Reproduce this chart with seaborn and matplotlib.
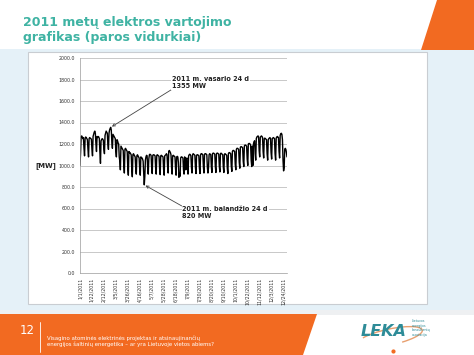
import numpy as np
import pandas as pd
import matplotlib
matplotlib.use("Agg")
import matplotlib.pyplot as plt
from matplotlib.patches import Rectangle, Polygon, Arc
import seaborn as sns

# === DATA (daily averages, MW, 2011) ===
jan = [1000, 1120, 1270, 1275, 1265, 1250, 1260, 1160, 1090, 1255, 1265, 1260, 1250, 1240, 1150, 1080,
       1250, 1260, 1255, 1250, 1245, 1150, 1090, 1270, 1290, 1310, 1320, 1300, 1200, 1130, 1270]
feb = [1260, 1270, 1265, 1250, 1120, 1020, 1230, 1240, 1250, 1245, 1235, 1150, 1110, 1280, 1300, 1320,
       1310, 1300, 1200, 1150, 1300, 1330, 1345, 1355, 1330, 1220, 1160, 1290]
mar = [1280, 1270, 1260, 1250, 1130, 1080, 1240, 1230, 1210, 1200, 1080, 1040, 960, 1180, 1170, 1160,
       1150, 1140, 1000, 930, 1150, 1160, 1150, 1140, 1130, 980, 910, 1130, 1120, 1120, 1110]
apr = [1100, 970, 895, 1100, 1110, 1100, 1090, 1080, 970, 920, 1090, 1100, 1090, 1080, 1070, 960,
       910, 1080, 1075, 1070, 1060, 1040, 930, 820, 900, 1050, 1080, 1095, 1090, 975]
may = [920, 1060, 1100, 1105, 1100, 1095, 980, 925, 1095, 1100, 1100, 1095, 1090, 975, 920, 1095,
       1100, 1095, 1090, 1085, 970, 915, 1090, 1095, 1090, 1085, 1080, 965, 910, 1090, 1095]
jun = [1100, 1110, 1100, 990, 930, 1130, 1140, 1130, 1120, 1100, 980, 920, 1090, 1095, 1090, 1085,
       1080, 970, 910, 1080, 1085, 1080, 1030, 890, 930, 900, 1070, 1080, 1080, 1075]
jul = [1070, 960, 920, 1080, 1070, 960, 1060, 1070, 970, 920, 1090, 1100, 1105, 1100, 1090, 980,
       930, 1100, 1110, 1105, 1100, 1095, 980, 925, 1095, 1100, 1100, 1095, 1090, 975, 925]
aug = [1100, 1110, 1110, 1105, 1100, 985, 930, 1105, 1110, 1110, 1105, 1100, 980, 930, 980, 1100,
       1110, 1105, 1100, 985, 935, 1110, 1115, 1115, 1110, 1105, 990, 935, 1110, 1115, 1115]
sep = [1110, 1105, 990, 940, 1110, 1115, 1110, 1105, 1100, 985, 935, 1105, 1110, 1105, 1100, 1095,
       975, 925, 1110, 1120, 1120, 1115, 1110, 995, 945, 1130, 1140, 1140, 1135, 1130]
oct_ = [1010, 960, 1150, 1160, 1160, 1155, 1150, 1030, 975, 1170, 1175, 1175, 1170, 1165, 1040, 990,
        1180, 1190, 1190, 1185, 1180, 1060, 1000, 1200, 1205, 1205, 1200, 1190, 1050, 990, 1180]
nov = [1000, 1200, 1220, 1230, 1110, 1050, 1250, 1265, 1270, 1275, 1270, 1140, 1080, 1260, 1270, 1275,
       1270, 1260, 1130, 1070, 1250, 1255, 1250, 1245, 1240, 1110, 1050, 1240, 1250, 1255]
dec = [1260, 1250, 1120, 1060, 1250, 1255, 1260, 1255, 1250, 1110, 1050, 1255, 1265, 1270, 1265, 1260,
       1130, 1070, 1280, 1295, 1300, 1290, 1240, 1050, 950, 980, 1150, 1160, 1150, 1120, 1080]

mw = jan + feb + mar + apr + may + jun + jul + aug + sep + oct_ + nov + dec
dates = pd.date_range("2011-01-01", "2011-12-31", freq="D")
df = pd.DataFrame({"date": dates, "mw": mw})

y_ticks = [0, 200, 400, 600, 800, 1000, 1200, 1400, 1600, 1800, 2000]
x_ticks = pd.date_range("2011-01-01", "2011-12-31", freq="21D")

title = "2011 metų elektros vartojimo\ngrafikas (paros vidurkiai)"
note_peak = "2011 m. vasario 24 d\n1355 MW"
note_low = "2011 m. balandžio 24 d\n820 MW"
footer = "Visagino atominės elektrinės projektas ir atsinaujinančių\nenergijos šaltinių energetika – ar yra Lietuvoje vietos abiems?"

# === FIGURE ===
sns.set_style("white")
plt.rcParams['font.family'] = ['DejaVu Sans']

W, H = 474, 355
fig = plt.figure(figsize=(W / 100, H / 100), dpi=100)
fig.patch.set_facecolor("white")

# slide background drawn in pixel coordinates
bg = fig.add_axes([0, 0, 1, 1])
bg.set_xlim(0, W)
bg.set_ylim(H, 0)
bg.axis("off")

teal = "#3fb3a3"
orange = "#f26a21"

bg.add_patch(Rectangle((0, 49), W, 265, color="#e5f1f8", lw=0))
bg.add_patch(Polygon([(437, 0), (W, 0), (W, 50), (421, 50)], color=orange, lw=0))
bg.add_patch(Rectangle((0, 310), W, 5, color="#eef0f2", lw=0))
bg.add_patch(Polygon([(0, 314), (317, 314), (303, H), (0, H)], color=orange, lw=0))
bg.add_patch(Rectangle((28, 52), 399, 252, facecolor="white", edgecolor="#c9cdd2", lw=0.8))

bg.text(23, 16, title, color=teal, fontsize=9.0, fontweight="bold", va="top", linespacing=1.25)
bg.text(20, 331, "12", color="white", fontsize=8.5, va="center")
bg.plot([40, 40], [322, 352], color="white", lw=0.6)
bg.text(47, 347, footer, color="white", fontsize=3.9, va="bottom", linespacing=1.2)

# LEKA logo
bg.text(384, 331, "LEKA", color="#2e8c98", fontsize=11.5, fontweight="bold", fontstyle="italic",
        ha="center", va="center")
bg.add_patch(Arc((390, 337), 66, 16, angle=-12, theta1=190, theta2=35, color="#e8a070", lw=1.0))
bg.plot([393], [351], marker="o", ms=2, color=orange)
bg.text(412, 319, "Lietuvos\nenergijos\nkonsultantų\nasociacija", color="#2e8c98", fontsize=2.3,
        va="top", linespacing=1.2)

# chart axes
ax = fig.add_axes([80 / W, 1 - 273 / H, 207 / W, 215 / H])
ax.set_facecolor("white")
sns.lineplot(data=df, x="date", y="mw", color="black", lw=1.0, ax=ax)

ax.set_ylim(0, 2000)
ax.set_xlim(dates[0], dates[-1])
ax.set_yticks(y_ticks)
ax.set_yticklabels([f"{v:.1f}" for v in y_ticks])
ax.set_xticks(x_ticks)
ax.set_xticklabels([f"{d.month}/{d.day}/{d.year}" for d in x_ticks], rotation=90)
ax.tick_params(axis="both", labelsize=3.4, colors="#333333", length=2, width=0.5, pad=1.5)
ax.yaxis.grid(True, color="#bfbfbf", lw=0.6)
ax.set_axisbelow(True)
for s in ["top", "right"]:
    ax.spines[s].set_visible(False)
for s in ["left", "bottom"]:
    ax.spines[s].set_color("#9a9a9a")
    ax.spines[s].set_linewidth(0.5)
ax.set_xlabel("")
ax.set_ylabel("")

fig.text(35 / W, 1 - 166 / H, "[MW]", fontsize=5.0, fontweight="bold", color="#222222", va="center")

peak_day = pd.Timestamp("2011-02-24")
low_day = pd.Timestamp("2011-04-24")
ax.annotate(note_peak, xy=(peak_day, df.loc[df.date == peak_day, "mw"].iloc[0]),
            xytext=(pd.Timestamp("2011-06-12"), 1770), fontsize=4.7, fontweight="bold", color="#222222",
            va="center", bbox=dict(fc="white", ec="none", pad=0.5),
            arrowprops=dict(arrowstyle="->", color="#444444", lw=0.6, shrinkA=0, shrinkB=1,
                            relpos=(0, 0)))
ax.annotate(note_low, xy=(low_day, df.loc[df.date == low_day, "mw"].iloc[0]),
            xytext=(pd.Timestamp("2011-06-30"), 560), fontsize=4.7, fontweight="bold", color="#222222",
            va="center", bbox=dict(fc="white", ec="none", pad=0.5),
            arrowprops=dict(arrowstyle="->", color="#444444", lw=0.6, shrinkA=0, shrinkB=1,
                            relpos=(0, 1)))

fig.savefig("out.png", dpi=100)
